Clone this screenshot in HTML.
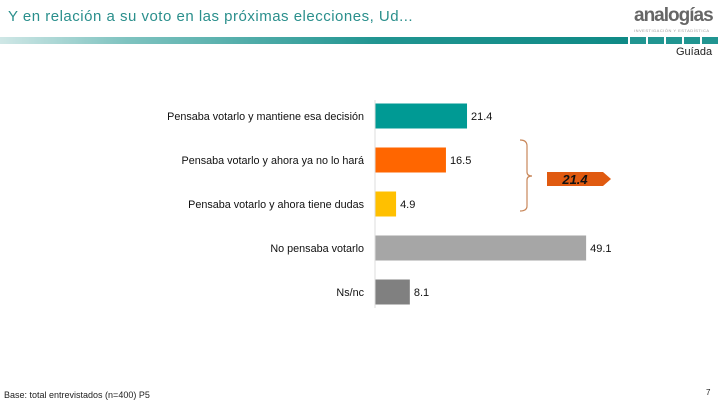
<!DOCTYPE html>
<html><head><meta charset="utf-8"><style>
body{margin:0;width:720px;height:405px;background:#fff;font-family:"Liberation Sans",sans-serif;position:relative;overflow:hidden}
.abs{position:absolute}
</style></head><body>
<div class="abs" style="left:8px;top:8px;font-size:15px;color:#2a8f8c;letter-spacing:0.5px">Y en relación a su voto en las próximas elecciones, Ud...</div>
<div class="abs" style="left:634px;top:5px;font-size:19px;font-weight:bold;color:#666;letter-spacing:-1px">analogías</div>
<div class="abs" style="left:634px;top:28px;font-size:4px;color:#999;letter-spacing:0.5px">INVESTIGACIÓN Y ESTADÍSTICA</div>
<div class="abs" style="left:0;top:37px;width:628px;height:7px;background:linear-gradient(90deg,#cfe7e6,#7fc3c0 20%,#219591 60%,#0f8a86)"></div>
<div class="abs" style="left:630px;top:37px;width:90px;height:7px;background:repeating-linear-gradient(90deg,#219591 0 16px,#fff 16px 18px)"></div>
<div class="abs" style="left:676px;top:46px;font-size:11px;color:#222">Guíada</div>
<svg class="abs" style="left:0;top:0" width="720" height="405">
<g id="g"></g>
<path d="M520,140 Q527,140 527,146 L527,172 Q527,176 532,176 Q527,176 527,180 L527,206 Q527,211 520,211" fill="none" stroke="#c8875a" stroke-width="1.2"/>
<polygon points="547,172 603,172 611,179 603,186 547,186" fill="#e05a10"/>
<text x="575" y="184" text-anchor="middle" font-size="13" font-weight="bold" font-style="italic" fill="#111">21.4</text>
</svg>
<div class="abs" style="left:4px;top:390px;font-size:9px;color:#222">Base: total entrevistados (n=400) P5</div>
<div class="abs" style="left:706px;top:388px;font-size:8px;color:#222">7</div>
<script>
const categories=["Pensaba votarlo y mantiene esa decisión","Pensaba votarlo y ahora ya no lo hará","Pensaba votarlo y ahora tiene dudas","No pensaba votarlo","Ns/nc"];
const values=[21.4,16.5,4.9,49.1,8.1];
const colors=["#009a94","#ff6600","#ffc000","#a6a6a6","#808080"];
const x0=375,scale=4.3,y0=116,step=44,h=25;
const xs=v=>x0+v*scale, ys=i=>y0+i*step;
const g=document.getElementById('g');const ns="http://www.w3.org/2000/svg";
categories.forEach((c,i)=>{
 const r=document.createElementNS(ns,'rect');
 r.setAttribute('x',x0);r.setAttribute('y',ys(i)-h/2);r.setAttribute('width',xs(values[i])-x0);r.setAttribute('height',h);r.setAttribute('fill',colors[i]);
 
 
 g.appendChild(r);
 const t=document.createElementNS(ns,'text');
 t.setAttribute('x',364);t.setAttribute('y',ys(i)+4);t.setAttribute('text-anchor','end');t.setAttribute('font-size','10.8');t.setAttribute('fill','#111');t.textContent=c;
 
 
 g.appendChild(t);
 const v=document.createElementNS(ns,'text');
 v.setAttribute('x',xs(values[i])+4);v.setAttribute('y',ys(i)+4);v.setAttribute('font-size','11');v.setAttribute('fill','#111');v.textContent=values[i].toFixed(1);
 
 
 g.appendChild(v);
});
const ax=document.createElementNS(ns,'line');
ax.setAttribute('x1',x0);ax.setAttribute('x2',x0);ax.setAttribute('y1',100);ax.setAttribute('y2',308);ax.setAttribute('stroke','#ddd');


g.appendChild(ax);
</script>
</body></html>
